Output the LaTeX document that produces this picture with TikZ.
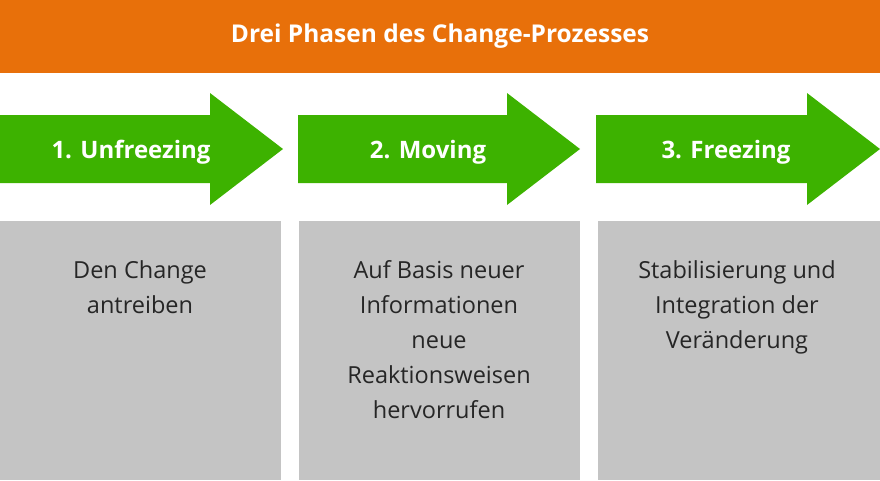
\documentclass[tikz,border=0pt]{standalone}
\usepackage{fontspec}
\setmainfont{Open Sans}
\usetikzlibrary{positioning}
\definecolor{orange}{HTML}{E8700A}
\definecolor{pfeilgruen}{HTML}{3DB200}
\definecolor{kastengrau}{HTML}{C4C4C4}
\begin{document}
\begin{tikzpicture}[x=1pt,y=-1pt,
    titel/.style={text=white, font=\fontsize{24.5}{28}\selectfont\bfseries},
    phase/.style={text=white, font=\fontsize{24}{28}\selectfont\bfseries},
    inhalt/.style={align=center, text=black!85, font=\fontsize{23.5}{35}\selectfont, anchor=north}
    ]
  \useasboundingbox (0,0) rectangle (880,480);

  \fill[orange] (0,0) rectangle (880,73);
  \node[titel] (titel) at (440,36) {Drei Phasen des Change-Prozesses};

  \foreach \x/\w/\n in {0/283/1, 298/282/2, 596/284/3} {
    \fill[pfeilgruen] (\x,115) -- (\x+\w-73,115) -- (\x+\w-73,93) -- (\x+\w,149)
       -- (\x+\w-73,205) -- (\x+\w-73,183) -- (\x,183) -- cycle;
  }
  \fill[kastengrau] (0,221) rectangle (281,480);
  \fill[kastengrau] (299,221) rectangle (580,480);
  \fill[kastengrau] (598,221) rectangle (880,480);

  \node[phase] (phase1) at (131,152) {1. Unfreezing};
  \node[phase] (phase2) at (428,152) {2. Moving};
  \node[phase] (phase3) at (726,152) {3. Freezing};

  \node[inhalt] (text1) at (140,257) {Den Change\\antreiben};
  \node[inhalt] (text2) at (439,257) {Auf Basis neuer\\Informationen\\neue\\Reaktionsweisen\\hervorrufen};
  \node[inhalt] (text3) at (737,257) {Stabilisierung und\\Integration der\\Veränderung};
\end{tikzpicture}
\end{document}
